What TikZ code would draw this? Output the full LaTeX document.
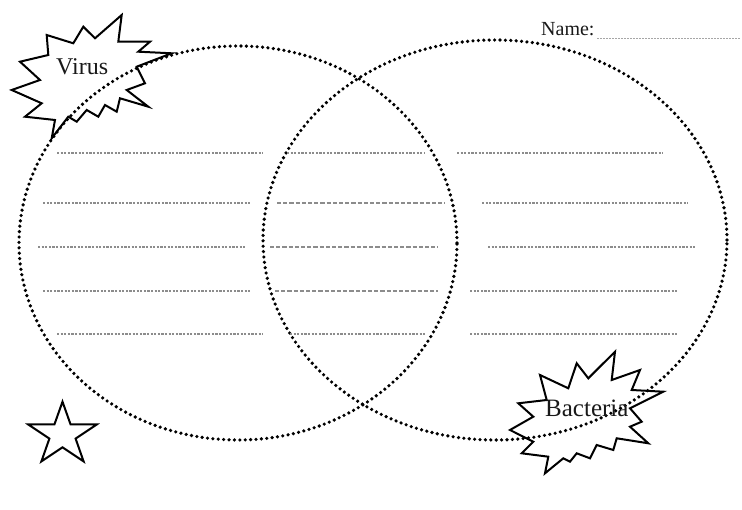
\documentclass[tikz,border=0pt]{standalone}
\usepackage{fontspec}
\setmainfont{Liberation Serif}
\begin{document}
\begin{tikzpicture}[x=1pt,y=-1pt,
  dotcircle/.style={draw=black, line width=3.6pt, line cap=round, dash pattern=on 0pt off 5.4pt},
  writeline/.style={draw=black!45, line width=1.2pt, dash pattern=on 2.2pt off 1.4pt},
  writelinelong/.style={draw=black!45, line width=1.2pt, dash pattern=on 4.2pt off 2pt},
  burst/.style={draw=black, line width=2pt, fill=white, line join=miter, miter limit=20},
  starshape/.style={draw=black, line width=2pt, fill=white, line join=miter, miter limit=20},
  lbl/.style={inner sep=0pt, anchor=base west, text=black!90}]
\useasboundingbox (0,0) rectangle (742,510);
\fill[white] (0,0) rectangle (742,510);

% bursts
\draw[burst] (46.7,35) -- (73.3,43.3) -- (83.3,26.7) -- (95,38.3) -- (121.7,15) -- (118.3,41.7) -- (150,41.7) -- (138.3,51.7) -- (171.7,53.3) -- (136.7,66.7) -- (145,83.3) -- (126.7,90) -- (148.3,106.7) -- (120,98.3) -- (116.7,111.7) -- (105,105) -- (98.3,116.7) -- (86.7,110) -- (76.7,121.7) -- (68.3,116.7) -- (51.7,138.3) -- (55,120) -- (25,116.7) -- (41.7,103.3) -- (11.7,90) -- (40,80) -- (20,61.7) -- (48.3,55) -- cycle;
\draw[burst] (540,375) -- (568.3,388.3) -- (576.7,363.3) -- (588.3,378.3) -- (615,351.7) -- (611.7,380) -- (640,370) -- (631.7,390) -- (663.3,391.7) -- (630,408.3) -- (641.7,421.7) -- (630,426.7) -- (648.3,443.3) -- (616.7,438.3) -- (613.3,450) -- (596.7,445) -- (590,458.3) -- (576.7,453.3) -- (570,461.7) -- (563.3,458.3) -- (545,473.3) -- (548.3,456.7) -- (521.7,453.3) -- (533.3,441.7) -- (510,430) -- (533.3,416.7) -- (518.3,403.3) -- (546.7,400) -- cycle;

% star
\draw[starshape] (62.5,401.7) -- (70.6,424.5) -- (96.7,424.5) -- (75.6,438.6) -- (83.6,461.4) -- (62.5,447.3) -- (41.4,461.4) -- (49.4,438.6) -- (28.3,424.5) -- (54.4,424.5) -- cycle;

% circles
\draw[dotcircle] (238,243) ellipse [x radius=219pt, y radius=197pt];
\draw[dotcircle] (495,240) ellipse [x radius=232pt, y radius=200pt];

% writing lines: left
\coordinate (l1a) at (57,153);  \coordinate (l1b) at (263,153);
\coordinate (l2a) at (43,203);  \coordinate (l2b) at (250,203);
\coordinate (l3a) at (38,247);  \coordinate (l3b) at (245,247);
\coordinate (l4a) at (43,291);  \coordinate (l4b) at (250,291);
\coordinate (l5a) at (57,334);  \coordinate (l5b) at (263,334);
\draw[writeline] (l1a) -- (l1b);
\draw[writeline] (l2a) -- (l2b);
\draw[writeline] (l3a) -- (l3b);
\draw[writeline] (l4a) -- (l4b);
\draw[writeline] (l5a) -- (l5b);
% middle
\coordinate (m1a) at (287,153); \coordinate (m1b) at (425,153);
\coordinate (m2a) at (277,203); \coordinate (m2b) at (445,203);
\coordinate (m3a) at (270,247); \coordinate (m3b) at (438,247);
\coordinate (m4a) at (275,291); \coordinate (m4b) at (438,291);
\coordinate (m5a) at (290,334); \coordinate (m5b) at (425,334);
\draw[writeline] (m1a) -- (m1b);
\draw[writelinelong] (m2a) -- (m2b);
\draw[writelinelong] (m3a) -- (m3b);
\draw[writelinelong] (m4a) -- (m4b);
\draw[writeline] (m5a) -- (m5b);
% right
\coordinate (r1a) at (457,153); \coordinate (r1b) at (663,153);
\coordinate (r2a) at (482,203); \coordinate (r2b) at (688,203);
\coordinate (r3a) at (488,247); \coordinate (r3b) at (695,247);
\coordinate (r4a) at (470,291); \coordinate (r4b) at (677,291);
\coordinate (r5a) at (470,334); \coordinate (r5b) at (677,334);
\draw[writeline] (r1a) -- (r1b);
\draw[writeline] (r2a) -- (r2b);
\draw[writeline] (r3a) -- (r3b);
\draw[writeline] (r4a) -- (r4b);
\draw[writeline] (r5a) -- (r5b);

% name
\node[lbl, font=\fontsize{20}{24}\selectfont] (name) at (541,36) {Name:};
\coordinate (n1) at (597,39); \coordinate (n2) at (740,39);
\draw[draw=black!35, line width=1pt, dash pattern=on 1.6pt off 1.4pt] (n1) -- (n2);

% labels
\node[lbl, font=\fontsize{24}{28}\selectfont] (virus) at (56,75) {Virus};
\node[lbl, font=\fontsize{25}{29}\selectfont] (bacteria) at (545,417) {Bacteria};
\end{tikzpicture}
\end{document}
